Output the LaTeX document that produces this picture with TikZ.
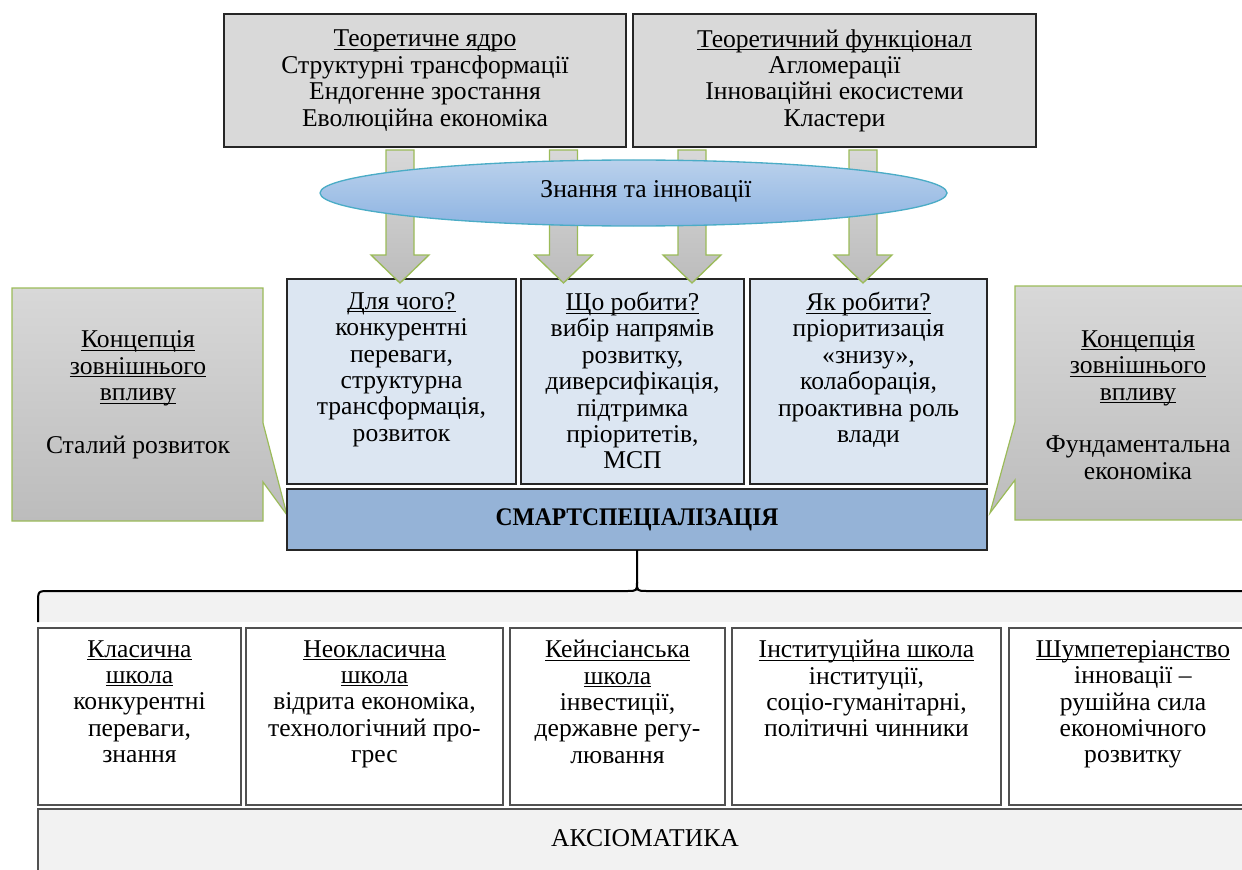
\documentclass[tikz,border=0pt]{standalone}
\usepackage{fontspec}
\usepackage{graphicx}
\setmainfont{Liberation Serif}
\usetikzlibrary{shapes.geometric}
\definecolor{topgray}{HTML}{D9D9D9}
\definecolor{midblue}{HTML}{DCE6F2}
\definecolor{smartblue}{HTML}{95B3D7}
\definecolor{ellTop}{HTML}{BAD1EC}
\definecolor{ellBot}{HTML}{8EB4E2}
\definecolor{ellLine}{HTML}{4BACC6}
\definecolor{calTop}{HTML}{D8D8D8}
\definecolor{calBot}{HTML}{BCBCBC}
\definecolor{grnLine}{HTML}{9BBB59}
\definecolor{paleGray}{HTML}{F2F2F2}
\definecolor{edge}{HTML}{262626}
\newsavebox\ulbox
\newcommand\ulx[1]{\sbox\ulbox{#1}\rlap{\rule[-2.2pt]{\wd\ulbox}{0.7pt}}\usebox\ulbox}
\newcommand\mybox[6]{\node[#6,inner sep=0pt,outer sep=0pt,minimum width={(#4-#2)*0.75pt},minimum height={(#5-#3)*0.75pt}] (#1) at ({(#2+#4)/2},{(#3+#5)/2}) {};}
\tikzset{
 txt/.style={font=\fontsize{19.2}{19.8}\selectfont, align=center, inner sep=0pt, text=black},
 topbox/.style={draw=edge, line width=1.1pt, fill=topgray, rectangle},
 midbox/.style={draw=edge, line width=1.1pt, fill=midblue, rectangle},
 smartbox/.style={draw=edge, line width=1.1pt, fill=smartblue, rectangle},
 schoolbox/.style={draw=edge!80, line width=1pt, fill=white, rectangle},
 axbox/.style={draw=edge!80, line width=1pt, fill=paleGray, rectangle},
 callout/.style={draw=grnLine, line width=0.9pt, top color=calTop, bottom color=calBot},
 arrowbody/.style={draw=grnLine, line width=1pt, top color=calTop, bottom color=calBot, line join=miter},
 knowell/.style={ellipse, draw=ellLine, line width=1pt, top color=ellTop, bottom color=ellBot},
 bracestyle/.style={draw=black, line width=1.5pt},
 bigarrow/.pic={\path[arrowbody] (-14,0) -- (14,0) -- (14,105) -- (29,105) -- (0,133) -- (-29,105) -- (-14,105) -- cycle;}
}
\begin{document}
\begin{tikzpicture}[x=0.75pt,y=-0.75pt]
\useasboundingbox (0,0) rectangle (1242,870);
\clip (0,0) rectangle (1242,870);

% top boxes
\mybox{core}{224}{14}{626}{147}{topbox}
\node[txt] (coretxt) at (core.center) {\ulx{Теоретичне ядро}\\Структурні трансформації\\Ендогенне зростання\\Еволюційна економіка};
\mybox{func}{633}{14}{1036}{147}{topbox}
\node[txt] (functxt) at (func.center) {\ulx{Теоретичний функціонал}\\Агломерації\\Інноваційні екосистеми\\Кластери};

% callouts
\path[callout] (12,288) -- (263,288) -- (263,423) -- (287,515) -- (263,482) -- (263,521) -- (12,521) -- cycle;
\path[callout] (1015,286) -- (1262,286) -- (1262,520) -- (1015,520) -- (1015,480) -- (990,513) -- (1015,422) -- cycle;
\node[txt] (lconc) at (138,395) {\ulx{Концепція}\\\ulx{зовнішнього}\\\ulx{впливу}\\[19.8pt]Сталий розвиток};
\node[txt] (rconc) at (1138,405) {\ulx{Концепція}\\\ulx{зовнішнього}\\\ulx{впливу}\\[19.8pt]Фундаментальна\\економіка};

% middle boxes
\mybox{why}{287}{279}{516}{484}{midbox}
\mybox{what}{521}{279}{744}{484}{midbox}
\mybox{how}{750}{279}{987}{484}{midbox}
\node[txt, anchor=north] (whytxt) at (401.5,292) {\ulx{Для чого?}\\конкурентні\\переваги,\\структурна\\трансформація,\\розвиток};
\node[txt, anchor=north] (whattxt) at (632.5,292) {\ulx{Що робити?}\\вибір напрямів\\розвитку,\\диверсифікація,\\підтримка\\пріоритетів,\\МСП};
\node[txt, anchor=north] (howtxt) at (868.5,292) {\ulx{Як робити?}\\пріоритизація\\«знизу»,\\колаборація,\\проактивна роль\\влади};

% smart
\mybox{smart}{287}{489}{987}{550}{smartbox}
\node[txt, font=\fontsize{19}{20}\selectfont\bfseries] (smarttxt) at (smart.center) {\scalebox{0.93}[1]{СМАРТСПЕЦІАЛІЗАЦІЯ}};

% arrows and ellipse
\pic at (400,150) {bigarrow};
\pic at (563.5,150) {bigarrow};
\pic at (692,150) {bigarrow};
\pic at (863,150) {bigarrow};
\node[knowell, minimum width=470.25pt, minimum height=49.5pt, inner sep=0pt] (know) at (633.5,193) {};
\node[txt] (knowtxt) at (646,191) {Знання та інновації};

% brace
\fill[paleGray] (38,591) rectangle (1260,622);
\draw[bracestyle] (smart.south) -- (637,582) .. controls (637,591) .. (627,591) -- (50,591) .. controls (38,591) .. (38,603) -- (38,622);
\draw[bracestyle] (637,582) .. controls (637,591) .. (647,591) -- (1260,591);

% schools
\mybox{classic}{38}{628}{241}{805}{schoolbox}
\mybox{neo}{246}{628}{503}{805}{schoolbox}
\mybox{keynes}{510}{628}{725}{805}{schoolbox}
\mybox{inst}{732}{628}{1001}{805}{schoolbox}
\mybox{schump}{1009}{628}{1257}{805}{schoolbox}
\node[txt, anchor=north] (classictxt) at (139.5,640) {\ulx{Класична}\\\ulx{школа}\\конкурентні\\переваги,\\знання};
\node[txt, anchor=north] (neotxt) at (374.5,640) {\ulx{Неокласична}\\\ulx{школа}\\відрита економіка,\\технологічний про-\\грес};
\node[txt, anchor=north] (keynestxt) at (617.5,640) {\ulx{Кейнсіанська}\\\ulx{школа}\\інвестиції,\\державне регу-\\лювання};
\node[txt, anchor=north] (insttxt) at (866.5,640) {\ulx{Інституційна школа}\\інституції,\\соціо-гуманітарні,\\політичні чинники};
\node[txt, anchor=north] (schumptxt) at (1133,640) {\ulx{Шумпетеріанство}\\інновації –\\рушійна сила\\економічного\\розвитку};

% axiomatics
\mybox{axiom}{38}{809}{1252}{880}{axbox}
\node[txt] (axiomtxt) at (645,838) {АКСІОМАТИКА};
\end{tikzpicture}
\end{document}
